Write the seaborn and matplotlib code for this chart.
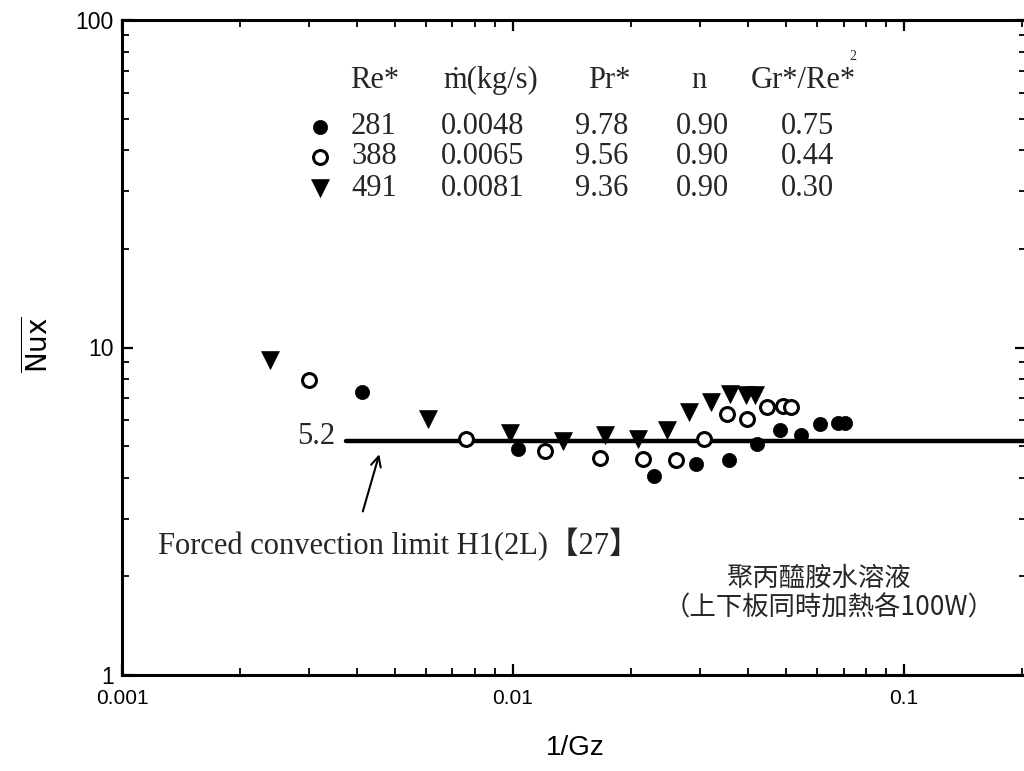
import matplotlib
matplotlib.use("Agg")
import matplotlib.pyplot as plt
import seaborn as sns
import pandas as pd
from matplotlib.ticker import FixedLocator, LogLocator, NullFormatter, FixedFormatter

# ---- data: averaged Nusselt number vs inverse Graetz number ----
inv_gz_281 = [0.00411, 0.0103, 0.0229, 0.0294, 0.0357, 0.0421, 0.0482, 0.0545, 0.0610, 0.0678, 0.0707]
nux_281 = [7.31, 4.91, 4.04, 4.42, 4.55, 5.08, 5.60, 5.41, 5.84, 5.89, 5.89]

inv_gz_388 = [0.00301, 0.00758, 0.0121, 0.0167, 0.0215, 0.0261, 0.0308, 0.0353, 0.0397, 0.0446, 0.0490, 0.0514]
nux_388 = [7.94, 5.26, 4.84, 4.61, 4.58, 4.55, 5.26, 6.27, 6.05, 6.58, 6.62, 6.58]

inv_gz_491 = [0.00239, 0.00606, 0.00983, 0.0134, 0.0172, 0.0209, 0.0248, 0.0282, 0.0321, 0.0359, 0.0394, 0.0416]
nux_491 = [9.13, 6.05, 5.49, 5.19, 5.41, 5.26, 5.60, 6.35, 6.81, 7.20, 7.15, 7.15]

# run conditions table
re_star = ["281", "388", "491"]
mdot = ["0.0048", "0.0065", "0.0081"]
pr_star = ["9.78", "9.56", "9.36"]
n_index = ["0.90", "0.90", "0.90"]
gr_re2 = ["0.75", "0.44", "0.30"]

# forced convection limit
forced_limit = 5.2
forced_x = [0.00374, 0.205]

x_ticks = [0.001, 0.01, 0.1]
x_ticklabels = ["0.001", "0.01", "0.1"]
y_ticks = [1, 10, 100]
y_ticklabels = ["1", "10", "100"]

# ---- figure ----
sns.set_theme(style="white")
plt.rcParams["font.family"] = ["Liberation Sans", "DejaVu Sans"]

W, H = 1024, 771
fig = plt.figure(figsize=(W / 100, H / 100), dpi=100)
ax_l, ax_r, ax_t, ax_b = 122, 1026, 20, 675
ax = fig.add_axes([ax_l / W, 1 - ax_b / H, (ax_r - ax_l) / W, (ax_b - ax_t) / H])


def fx(px):
    return px / W


def fy(py):
    return 1 - py / H


df281 = pd.DataFrame({"x": inv_gz_281, "y": nux_281})
df388 = pd.DataFrame({"x": inv_gz_388, "y": nux_388})
df491 = pd.DataFrame({"x": inv_gz_491, "y": nux_491})

filled_style = dict(marker="o", s=105, color="black", edgecolor="black", linewidth=0.5)
open_style = dict(marker="o", s=100, color="white", edgecolor="black", linewidth=2.2)
tri_style = dict(marker="v", s=165, color="black", edgecolor="black", linewidth=0.5)

sns.lineplot(x=forced_x, y=[forced_limit, forced_limit], ax=ax, color="black", lw=3.2, zorder=2)

sns.scatterplot(data=df281, x="x", y="y", ax=ax, zorder=3, **filled_style)
sns.scatterplot(data=df388, x="x", y="y", ax=ax, zorder=3, **open_style)
sns.scatterplot(data=df491, x="x", y="y", ax=ax, zorder=3, **tri_style)

ax.set_xscale("log")
ax.set_yscale("log")
ax.set_xlim(0.001, 0.205)
ax.set_ylim(1, 100)
ax.set_xlabel("")
ax.set_ylabel("")

ax.xaxis.set_major_locator(FixedLocator(x_ticks))
ax.xaxis.set_major_formatter(FixedFormatter(x_ticklabels))
ax.yaxis.set_major_locator(FixedLocator(y_ticks))
ax.yaxis.set_major_formatter(FixedFormatter(y_ticklabels))
ax.xaxis.set_minor_locator(LogLocator(base=10, subs=range(2, 10), numticks=20))
ax.yaxis.set_minor_locator(LogLocator(base=10, subs=range(2, 10), numticks=20))
ax.xaxis.set_minor_formatter(NullFormatter())
ax.yaxis.set_minor_formatter(NullFormatter())

ax.tick_params(which="both", direction="in", top=True, right=True, bottom=True, left=True,
               color="black", labelcolor="black")
ax.tick_params(which="major", length=8, width=1.6)
ax.tick_params(which="minor", length=5, width=1.3)
ax.tick_params(axis="x", which="major", pad=10, labelsize=15)
ax.tick_params(axis="y", which="major", pad=6, labelsize=16.5)

for side in ["left", "bottom", "top", "right"]:
    ax.spines[side].set_visible(True)
    ax.spines[side].set_color("black")
    ax.spines[side].set_linewidth(2.2)
ax.grid(False)

# axis titles
fig.text(fx(575), fy(748), "1/Gz", ha="center", va="center", fontsize=20, color="black")
fig.text(fx(38), fy(345), r"$\overline{\mathrm{Nux}}$", rotation=90, ha="center", va="center",
         fontsize=20, color="black")

serif = ["Liberation Serif", "DejaVu Serif"]
tfs = 22

# run-condition table
hdr_y = 80
fig.text(fx(375), fy(hdr_y), "Re*", ha="center", va="center", fontsize=tfs, family=serif)
fig.text(fx(491), fy(hdr_y), "ṁ(kg/s)", ha="center", va="center", fontsize=tfs, family=serif)
fig.text(fx(609), fy(hdr_y), "Pr*", ha="center", va="center", fontsize=tfs, family=serif)
fig.text(fx(699), fy(hdr_y), "n", ha="center", va="center", fontsize=tfs, family=serif)
fig.text(fx(803), fy(hdr_y), "Gr*/Re*", ha="center", va="center", fontsize=tfs, family=serif)
fig.text(fx(853), fy(57), "2", ha="center", va="center", fontsize=10, family=serif)

row_y = [127, 157, 188]
key_styles = [filled_style, open_style, tri_style]
for i, py in enumerate(row_y):
    ax.scatter([fx(320)], [fy(py)], transform=fig.transFigure, clip_on=False, zorder=4, **key_styles[i])
    fig.text(fx(374), fy(py), re_star[i], ha="center", va="center", fontsize=tfs, family=serif)
    fig.text(fx(483), fy(py), mdot[i], ha="center", va="center", fontsize=tfs, family=serif)
    fig.text(fx(602), fy(py), pr_star[i], ha="center", va="center", fontsize=tfs, family=serif)
    fig.text(fx(702), fy(py), n_index[i], ha="center", va="center", fontsize=tfs, family=serif)
    fig.text(fx(807), fy(py), gr_re2[i], ha="center", va="center", fontsize=tfs, family=serif)

# forced convection limit annotation
fig.text(fx(316), fy(437), "5.2", ha="center", va="center", fontsize=tfs, family=serif)
ax.annotate("", xy=(0.00457, 4.81), xytext=(0.00411, 3.10),
            arrowprops=dict(arrowstyle="->", color="black", lw=1.5, mutation_scale=18))
fig.text(fx(158), fy(545), "Forced convection limit H1(2L)【27】", ha="left", va="center",
         fontsize=tfs, family=["Liberation Serif", "Noto Sans CJK TC"])

# fluid and heating condition
cjk = ["Noto Sans CJK TC", "DejaVu Sans"]
fig.text(fx(819), fy(578), "聚丙醯胺水溶液", ha="center", va="center", fontsize=19, family=cjk)
fig.text(fx(829), fy(608), "（上下板同時加熱各100W）", ha="center", va="center", fontsize=19, family=cjk)

fig.savefig("out.png", dpi=100, facecolor="white")
